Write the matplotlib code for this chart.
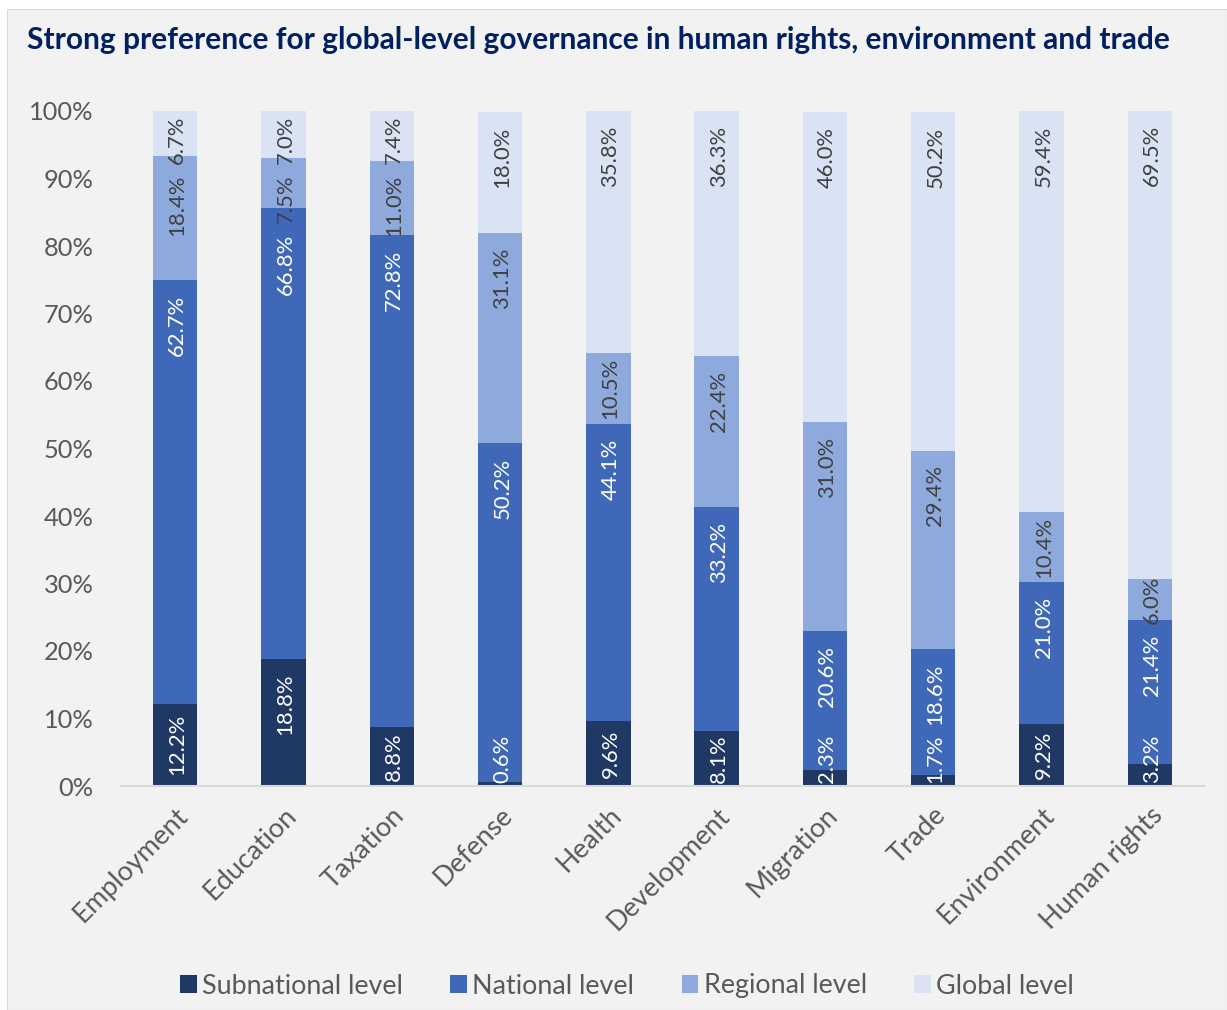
import matplotlib
matplotlib.use("Agg")
import matplotlib.pyplot as plt
from matplotlib.patches import Rectangle
import numpy as np

categories = ["Employment", "Education", "Taxation", "Defense", "Health",
              "Development", "Migration", "Trade", "Environment", "Human rights"]
subnational = [12.2, 18.8, 8.8, 0.6, 9.6, 8.1, 2.3, 1.7, 9.2, 3.2]
national = [62.7, 66.8, 72.8, 50.2, 44.1, 33.2, 20.6, 18.6, 21.0, 21.4]
regional = [18.4, 7.5, 11.0, 31.1, 10.5, 22.4, 31.0, 29.4, 10.4, 6.0]
global_ = [6.7, 7.0, 7.4, 18.0, 35.8, 36.3, 46.0, 50.2, 59.4, 69.5]
series_names = ["Subnational level", "National level", "Regional level", "Global level"]
yticks = [0, 10, 20, 30, 40, 50, 60, 70, 80, 90, 100]
title = "Strong preference for global-level governance in human rights, environment and trade"

colors = ["#203864", "#3F69B8", "#8EAADC", "#DAE3F3"]
label_colors = ["white", "white", "#404040", "#404040"]

plt.rcParams['font.family'] = ['Lato', 'DejaVu Sans']

fig = plt.figure(figsize=(12.27, 10.10), dpi=100, facecolor="white")
fig.patches.append(Rectangle((7/1227, 0), 1 - 7/1227, 1 - 9/1010,
                             transform=fig.transFigure, facecolor="#F2F2F2",
                             edgecolor="#D9D9D9", lw=0.8, zorder=-10))

ax = fig.add_axes([121/1227, 1 - 786/1010, (1204 - 121)/1227, (786 - 111)/1010])
ax.set_facecolor("none")
ax.set_xlim(-0.5, len(categories) - 0.5)
ax.set_ylim(0, 100)

x = np.arange(len(categories))
data = [subnational, national, regional, global_]
w = 0.41
pad = 2.2    # inside-end padding in data units
gap = 1.6    # minimum gap between neighbouring labels

renderer = fig.canvas.get_renderer()
px_per_unit = ax.transData.transform((0, 1))[1] - ax.transData.transform((0, 0))[1]

bottoms = np.zeros(len(categories))
seg_info = []  # per series list of (bottom, value)
for vals, col, name in zip(data, colors, series_names):
    vals = np.array(vals)
    ax.bar(x, vals, w, bottom=bottoms, color=col, label=name, edgecolor="none")
    seg_info.append((bottoms.copy(), vals))
    bottoms += vals

for i, xi in enumerate(x):
    texts, lens, centers = [], [], []
    for k in range(len(data)):
        b, v = seg_info[k][0][i], seg_info[k][1][i]
        t = ax.text(xi + 0.02, 0, f"{v:.1f}%", rotation=90, ha="center", va="center",
                    color=label_colors[k], fontsize=15.8)
        L = t.get_window_extent(renderer).height / px_per_unit
        top = b + v
        if v >= L + 1.5 * pad:
            c = top - pad - L / 2
        else:
            c = b + v / 2
        c = max(c, L / 2 + 0.4)
        c = min(c, 100 - L / 2 - 0.7)
        texts.append(t); lens.append(L); centers.append(c)
    # resolve overlaps from top down
    for k in range(len(data) - 2, -1, -1):
        upper_bottom = centers[k + 1] - lens[k + 1] / 2
        if centers[k] + lens[k] / 2 > upper_bottom - gap:
            centers[k] = upper_bottom - gap - lens[k] / 2
    for k in range(len(data)):
        centers[k] = max(centers[k], lens[k] / 2 + 0.4)
        texts[k].set_y(centers[k])

ax.set_yticks(yticks)
ax.set_yticklabels([f"{t}%" for t in yticks], fontsize=18.3, color="#595959")
ax.set_xticks(x)
ax.set_xticklabels(categories, rotation=45, ha="right", rotation_mode="anchor",
                   fontsize=19.5, color="#595959")
ax.tick_params(axis="both", length=0)
ax.tick_params(axis="y", pad=20)
ax.tick_params(axis="x", pad=12)
for s in ["top", "right", "left"]:
    ax.spines[s].set_visible(False)
ax.spines["bottom"].set_color("#D9D9D9")
ax.spines["bottom"].set_linewidth(1.5)

fig.text(27/1227, 1 - 40/1010, title, fontsize=21.5, fontweight="bold",
         color="#002060", ha="left", va="center")

handles, labels = ax.get_legend_handles_labels()
leg = fig.legend(handles, labels, loc="center", bbox_to_anchor=(627/1227, 1 - 986/1010),
                 ncol=4, frameon=False, fontsize=19.4, handlelength=0.62, handleheight=0.62,
                 handletextpad=0.2, columnspacing=1.75)
for t in leg.get_texts():
    t.set_color("#595959")

fig.savefig("out.png", dpi=100, facecolor="white")
